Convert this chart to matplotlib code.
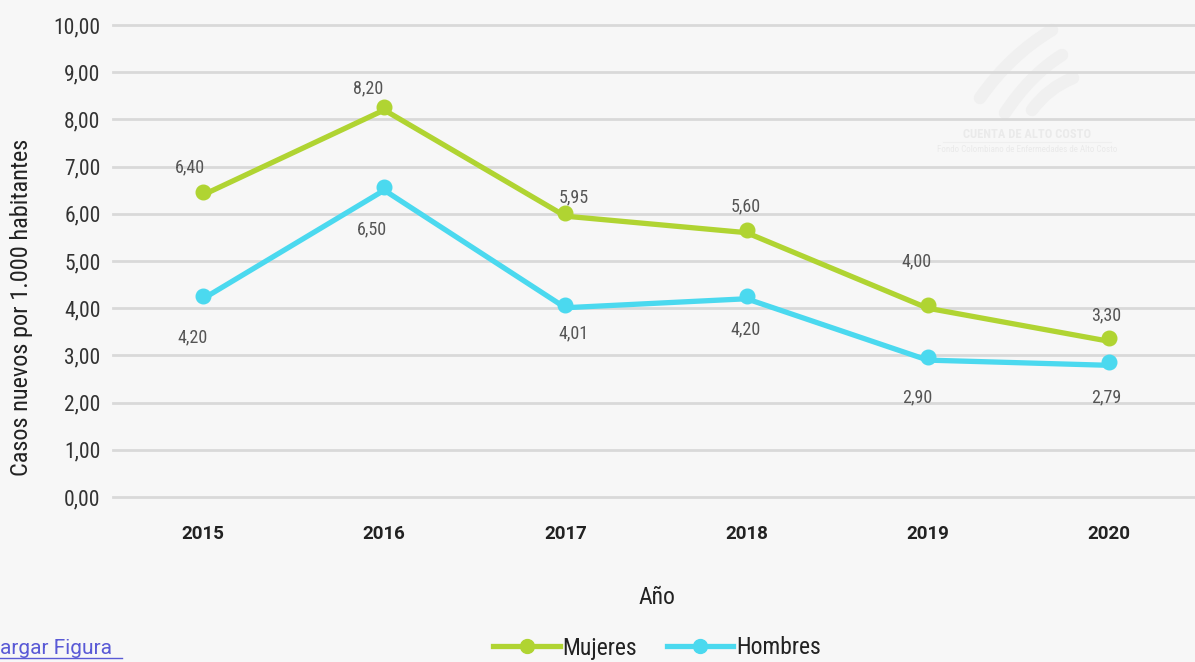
import matplotlib
matplotlib.use("Agg")
import matplotlib.pyplot as plt
import matplotlib.transforms as mtransforms
from matplotlib.lines import Line2D
from matplotlib.path import Path
from matplotlib.patches import PathPatch

plt.rcParams['font.family'] = ['Roboto Condensed', 'DejaVu Sans']

years = ["2015", "2016", "2017", "2018", "2019", "2020"]
mujeres = [6.40, 8.20, 5.95, 5.60, 4.00, 3.30]
hombres = [4.20, 6.50, 4.01, 4.20, 2.90, 2.79]
mujeres_labels = ["6,40", "8,20", "5,95", "5,60", "4,00", "3,30"]
hombres_labels = ["4,20", "6,50", "4,01", "4,20", "2,90", "2,79"]
yticks = [0, 1, 2, 3, 4, 5, 6, 7, 8, 9, 10]

# label offsets in pixels (style only)
muj_off = [(-13, 28), (-16, 22), (8, 19), (-1, 26), (-11, 47), (-3, 26)]
hom_off = [(-10, -39), (-12, -39), (8, -26), (-1, -31), (-11, -37), (-3, -32)]

GREEN = "#b0d432"
CYAN = "#4bd9ef"
BG = "#f7f7f7"
W, H = 1195, 662

fig = plt.figure(figsize=(W/100, H/100), dpi=100, facecolor=BG)

def fx(px):
    return px / W
def fy(py):
    return 1 - py / H

# faint watermark
swooshes = [((980, 98), (1010, 55), (1052, 30)),
            ((1005, 113), (1030, 75), (1062, 55)),
            ((1032, 110), (1048, 88), (1073, 78))]
for (p0, c, p1) in swooshes:
    path = Path([(fx(p0[0]), fy(p0[1])), (fx(c[0]), fy(c[1])), (fx(p1[0]), fy(p1[1]))],
                [Path.MOVETO, Path.CURVE3, Path.CURVE3])
    fig.add_artist(PathPatch(path, facecolor='none', edgecolor='#f0f0f0', lw=9,
                             capstyle='round', transform=fig.transFigure, zorder=0))
fig.text(fx(1027), fy(135), "CUENTA DE ALTO COSTO", ha='center', va='center',
         fontsize=9, fontweight='bold', color='#eaeaea', zorder=0)
fig.add_artist(Line2D([fx(943), fx(1111)], [fy(142), fy(142)], color='#efefef', lw=0.8,
                      transform=fig.transFigure, zorder=0))
fig.text(fx(1027), fy(149), "Fondo Colombiano de Enfermedades de Alto Costo",
         ha='center', va='center', fontsize=6.5, color='#eaeaea', zorder=0)

ax = fig.add_axes([113/W, 1-497/H, 1-113/W, (497-25)/H])
ax.set_facecolor('none')

x = list(range(len(years)))
ax.plot(x, mujeres, color=GREEN, lw=3.8, solid_capstyle='round', zorder=3)
ax.plot(x, hombres, color=CYAN, lw=3.8, solid_capstyle='round', zorder=3)
off = mtransforms.offset_copy(ax.transData, fig=fig, x=0, y=3, units='dots')
ax.plot(x, mujeres, 'o', color=GREEN, ms=10.5, transform=off, zorder=4)
ax.plot(x, hombres, 'o', color=CYAN, ms=10.5, transform=off, zorder=4)

for i in x:
    ax.annotate(mujeres_labels[i], (i, mujeres[i]), xytext=muj_off[i],
                textcoords='offset pixels', ha='center', va='center',
                fontsize=13, color='#555555')
    ax.annotate(hombres_labels[i], (i, hombres[i]), xytext=hom_off[i],
                textcoords='offset pixels', ha='center', va='center',
                fontsize=13, color='#555555')

ax.set_xlim(-0.497, 5.475)
ax.set_ylim(0, 10)
ax.set_yticks(yticks)
ax.set_yticklabels([f"{v:.2f}".replace('.', ',') for v in yticks],
                   fontsize=15.5, color='#333333')
ax.set_xticks(x)
ax.set_xticklabels(years, fontsize=13.5, fontweight='bold', color='#222222',
                   family=['Roboto', 'DejaVu Sans'])
ax.tick_params(axis='both', length=0)
ax.tick_params(axis='y', pad=9)
ax.tick_params(axis='x', pad=20)
ax.grid(axis='y', color='#d9d9d9', lw=2)
for gl in ax.get_ygridlines():
    gl.set_clip_on(False)
ax.set_axisbelow(True)
for s in ax.spines.values():
    s.set_visible(False)

fig.text(fx(22), fy(307), "Casos nuevos por 1.000 habitantes", rotation=90,
         ha='center', va='center', fontsize=17.5, color='#222222')
fig.text(fx(657), fy(597), "Año", ha='center', va='center',
         fontsize=17, color='#222222')

# download link (cut at the left edge in the reference)
fig.text(0, fy(648), "argar Figura", ha='left', va='center',
         fontsize=15, color='#5a5ad6', family=['Roboto', 'DejaVu Sans'])
fig.add_artist(Line2D([0, fx(122)], [fy(658), fy(658)], color='#5a5ad6',
                      lw=1, transform=fig.transFigure))

handles = [Line2D([], [], color=GREEN, lw=3.8, marker='o', ms=10),
           Line2D([], [], color=CYAN, lw=3.8, marker='o', ms=10)]
fig.legend(handles, ["Mujeres", "Hombres"], loc='center',
           bbox_to_anchor=(fx(657), fy(648)), ncol=2, frameon=False,
           fontsize=17, handlelength=2.8, handletextpad=0.1, columnspacing=1.3,
           labelcolor='#222222')

fig.savefig("out.png", dpi=100, facecolor=BG)
